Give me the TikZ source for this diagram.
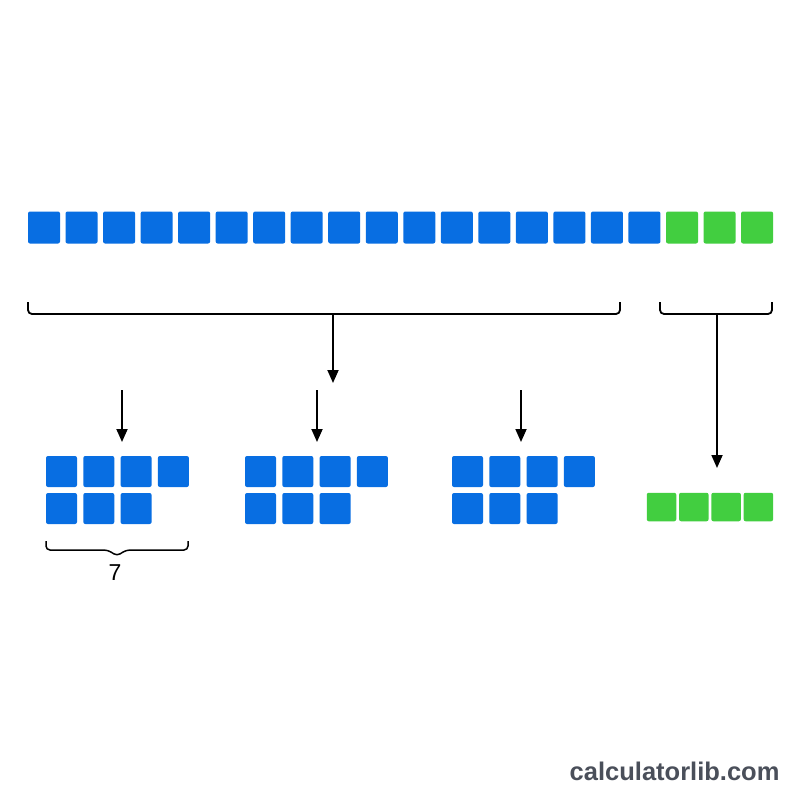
\documentclass[tikz,border=0pt]{standalone}
\usepackage{fontspec}
\setmainfont{Liberation Sans}
\usetikzlibrary{arrows.meta}
\definecolor{sqblue}{RGB}{8,110,226}
\definecolor{sqgreen}{RGB}{66,206,64}
\definecolor{wmgray}{RGB}{74,79,90}
\tikzset{
  bsq/.style={fill=sqblue,draw=none,rounded corners=2pt,minimum size=32pt,inner sep=0pt},
  gsq/.style={fill=sqgreen,draw=none,rounded corners=2pt,minimum size=32pt,inner sep=0pt},
  bsm/.style={fill=sqblue,draw=none,rounded corners=2pt,minimum size=31pt,inner sep=0pt},
  gsm/.style={fill=sqgreen,draw=none,rounded corners=2pt,minimum width=29.5pt,minimum height=28.5pt,inner sep=0pt},
  brk/.style={draw=black,line width=1.8pt,rounded corners=4pt},
  arr/.style={draw=black,line width=1.8pt,-{Triangle[width=11pt,length=13pt]}}
}
\begin{document}
\begin{tikzpicture}[x=1pt,y=-1pt]
\useasboundingbox[fill=white] (0,0) rectangle (800,800);
% top row
\foreach \i in {0,...,16}{
  \node[bsq] (t\i) at ({44+\i*37.53},227.5) {};
}
\foreach \i in {17,18,19}{
  \node[gsq] (t\i) at ({44+\i*37.53},227.5) {};
}
% brackets
\draw[brk] (28,302) -- (28,314) -- (620,314) -- (620,302);
\draw[brk] (660,302) -- (660,314) -- (772,314) -- (772,302);
\coordinate (bigc) at (333,314);
\coordinate (bigend) at (333,383);
\coordinate (smc) at (717,314);
\coordinate (smend) at (717,468);
\draw[arr] (bigc) -- (bigend);
\draw[arr] (smc) -- (smend);
% groups
\foreach \g/\gx/\ax in {1/46/122,2/245/317,3/452/521}{
  \foreach \j in {0,...,3}{
    \node[bsm] (g\g a\j) at ({\gx+15.5+\j*37.3},471.5) {};
  }
  \foreach \j in {0,...,2}{
    \node[bsm] (g\g b\j) at ({\gx+15.5+\j*37.3},508.5) {};
  }
  \coordinate (s\g) at (\ax,390);
  \coordinate (e\g) at (\ax,442);
  \draw[arr] (s\g) -- (e\g);
}
% green bottom row
\foreach \j in {0,...,3}{
  \node[gsm] (r\j) at ({661.5+\j*32.3},507) {};
}
% brace under group 1
\draw[draw=black,line width=1.5pt,rounded corners=4pt]
  (46,541) -- (46,550) -- (108,550) -- (117,556) -- (126,550) -- (188,550) -- (188,541);
\node[font=\fontsize{23}{26}\selectfont] (seven) at (115,573) {7};
% watermark
\node[font=\fontsize{25.5}{28}\selectfont\bfseries,text=wmgray,anchor=east] (wm) at (783,771) {calculatorlib.com};
\end{tikzpicture}
\end{document}
